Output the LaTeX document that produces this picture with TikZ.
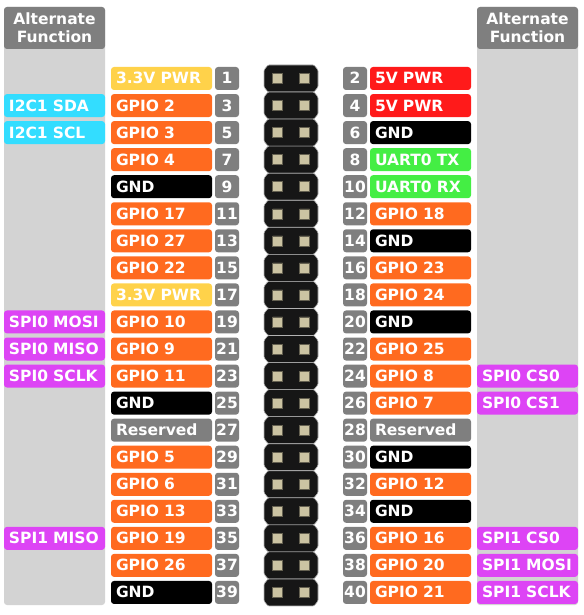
\documentclass[tikz,border=0pt]{standalone}
\usepackage{fontspec}
\setmainfont{DejaVu Sans}
\definecolor{pinorange}{HTML}{FF6A1F}
\definecolor{pinyellow}{HTML}{FFD24A}
\definecolor{pinred}{HTML}{FF1A1A}
\definecolor{pingreen}{HTML}{44EE44}
\definecolor{altcyan}{HTML}{33DDFF}
\definecolor{altmagenta}{HTML}{DD44F5}
\definecolor{numgray}{HTML}{7F7F7F}
\definecolor{bandgray}{HTML}{D3D3D3}
\definecolor{hdrblack}{HTML}{161616}
\definecolor{pinmetal}{HTML}{CBC3A2}
\tikzset{
  every node/.style={font=\fontsize{15.5}{18}\selectfont\bfseries, text=white, inner sep=0pt},
  labelbox/.style={rounded corners=3pt, minimum height=23pt, text width=91pt,
    inner xsep=5pt, align=left, text height=11pt, text depth=0pt},
  numbox/.style={rounded corners=3pt, fill=numgray, minimum width=24pt,
    minimum height=23pt, text height=11pt, text depth=0pt},
  headbox/.style={rounded corners=3pt, fill=numgray, minimum width=101pt,
    minimum height=42pt, align=center}
}
\begin{document}
\begin{tikzpicture}[x=1pt, y=-1pt]
  \useasboundingbox (0,0) rectangle (583,615);
  % alternate function bands
  \fill[bandgray, rounded corners=3pt] (4,7) rectangle (105,605);
  \fill[bandgray, rounded corners=3pt] (477,7) rectangle (578,605);
  \node[headbox] (headl) at (54.5,28) {Alternate\\Function};
  \node[headbox] (headr) at (527.5,28) {Alternate\\Function};
  % header connector
  \foreach \k in {1,...,20} {
    \pgfmathsetmacro\yy{78.5+(\k-1)*27.05}
    \begin{scope}[shift={(0,\yy)}]
      \fill[hdrblack, draw=gray!60, line width=0.6pt, rounded corners=1pt]
        (268,-13.5) -- (314,-13.5) -- (318,-8.5) -- (318,8.5) -- (314,13.5)
        -- (268,13.5) -- (264,8.5) -- (264,-8.5) -- cycle;
      \fill[pinmetal, draw=pinmetal!50!black, line width=0.5pt]
        (272.5,-5) rectangle (282.5,5) (299.5,-5) rectangle (309.5,5);
    \end{scope}
  }
  % odd pins
  \foreach \txt/\col [count=\k] in {3.3V PWR/pinyellow, GPIO 2/pinorange,
      GPIO 3/pinorange, GPIO 4/pinorange, GND/black, GPIO 17/pinorange,
      GPIO 27/pinorange, GPIO 22/pinorange, 3.3V PWR/pinyellow,
      GPIO 10/pinorange, GPIO 9/pinorange, GPIO 11/pinorange, GND/black,
      Reserved/numgray, GPIO 5/pinorange, GPIO 6/pinorange,
      GPIO 13/pinorange, GPIO 19/pinorange, GPIO 26/pinorange, GND/black} {
    \pgfmathsetmacro\yy{78.5+(\k-1)*27.05}
    \pgfmathtruncatemacro\num{2*\k-1}
    \node[labelbox, fill=\col] (lpin\k) at (161.5,\yy) {\txt};
    \node[numbox] (lnum\k) at (227,\yy) {\num};
  }
  % even pins
  \foreach \txt/\col [count=\k] in {5V PWR/pinred, 5V PWR/pinred, GND/black,
      UART0 TX/pingreen, UART0 RX/pingreen, GPIO 18/pinorange, GND/black,
      GPIO 23/pinorange, GPIO 24/pinorange, GND/black, GPIO 25/pinorange,
      GPIO 8/pinorange, GPIO 7/pinorange, Reserved/numgray, GND/black,
      GPIO 12/pinorange, GND/black, GPIO 16/pinorange, GPIO 20/pinorange,
      GPIO 21/pinorange} {
    \pgfmathsetmacro\yy{78.5+(\k-1)*27.05}
    \pgfmathtruncatemacro\num{2*\k}
    \node[numbox] (rnum\k) at (355,\yy) {\num};
    \node[labelbox, fill=\col] (rpin\k) at (420.5,\yy) {\txt};
  }
  % alternate functions
  \foreach \k/\txt/\col in {2/I2C1 SDA/altcyan, 3/I2C1 SCL/altcyan,
      10/SPI0 MOSI/altmagenta, 11/SPI0 MISO/altmagenta,
      12/SPI0 SCLK/altmagenta, 18/SPI1 MISO/altmagenta} {
    \pgfmathsetmacro\yy{78.5+(\k-1)*27.05}
    \node[labelbox, fill=\col] (lalt\k) at (54.5,\yy) {\txt};
  }
  \foreach \k/\txt/\col in {12/SPI0 CS0/altmagenta, 13/SPI0 CS1/altmagenta,
      18/SPI1 CS0/altmagenta, 19/SPI1 MOSI/altmagenta,
      20/SPI1 SCLK/altmagenta} {
    \pgfmathsetmacro\yy{78.5+(\k-1)*27.05}
    \node[labelbox, fill=\col] (ralt\k) at (527.5,\yy) {\txt};
  }
\end{tikzpicture}
\end{document}
